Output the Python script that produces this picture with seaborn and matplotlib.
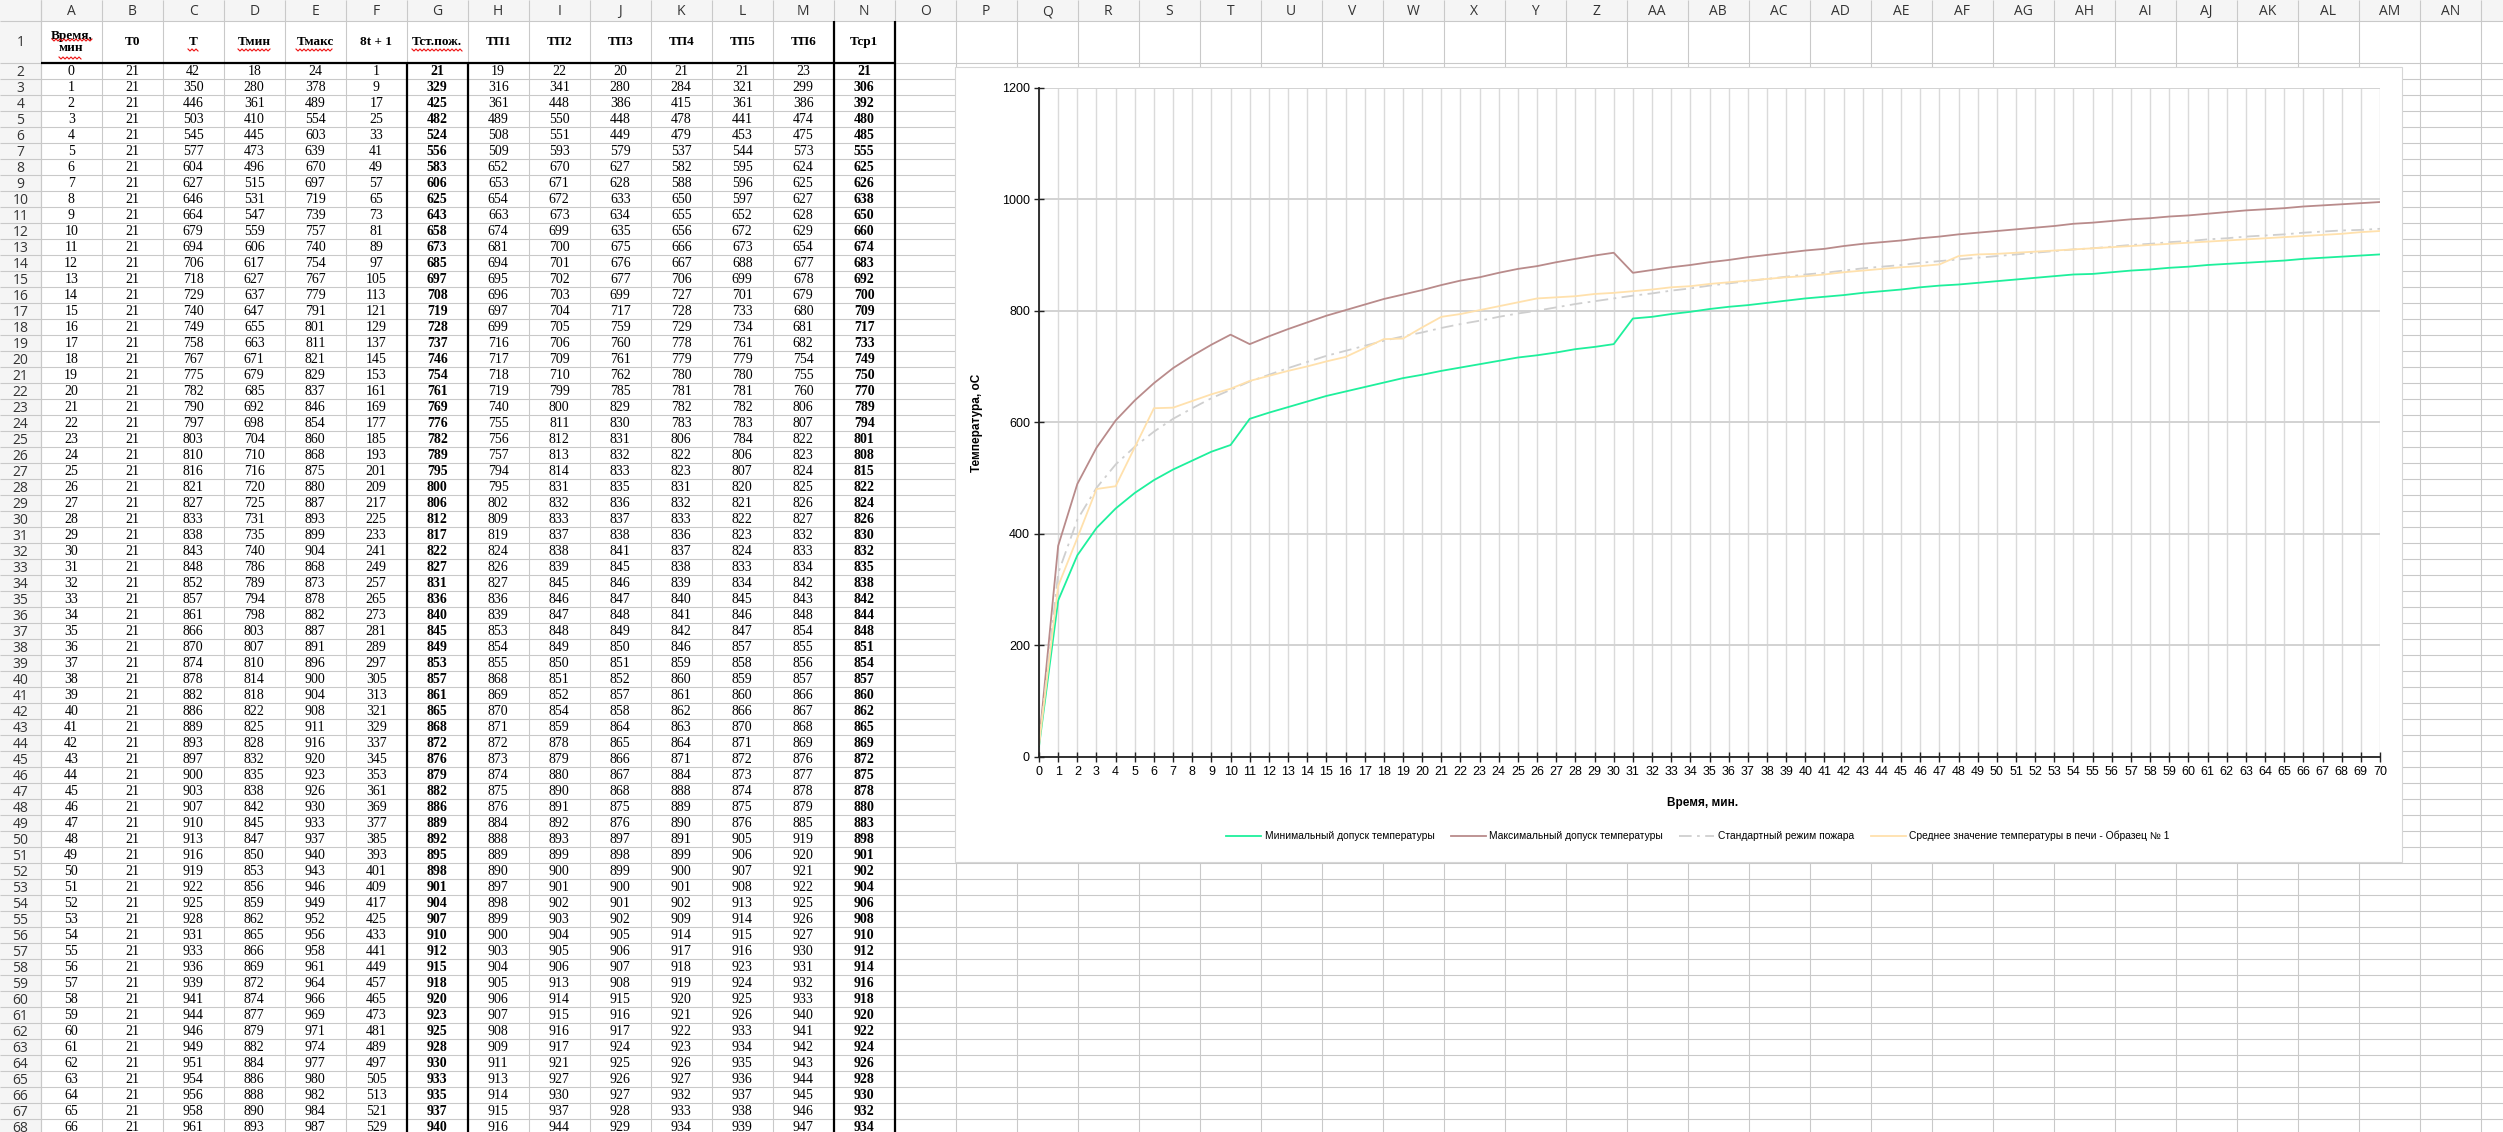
import numpy as np
import pandas as pd
import matplotlib
matplotlib.use("Agg")
import matplotlib.pyplot as plt
import seaborn as sns
from matplotlib.patches import Rectangle

# ---- table data (read from the sheet) ----
time_min = list(range(67))
t0 = [21] * 67
t_st = [42, 350, 446, 503, 545, 577, 604, 627, 646, 664, 679, 694, 706, 718, 729, 740, 749, 758, 767, 775,
        782, 790, 797, 803, 810, 816, 821, 827, 833, 838, 843, 848, 852, 857, 861, 866, 870, 874, 878, 882,
        886, 889, 893, 897, 900, 903, 907, 910, 913, 916, 919, 922, 925, 928, 931, 933, 936, 939, 941, 944,
        946, 949, 951, 954, 956, 958, 961]
t_min = [18, 280, 361, 410, 445, 473, 496, 515, 531, 547, 559, 606, 617, 627, 637, 647, 655, 663, 671, 679,
         685, 692, 698, 704, 710, 716, 720, 725, 731, 735, 740, 786, 789, 794, 798, 803, 807, 810, 814, 818,
         822, 825, 828, 832, 835, 838, 842, 845, 847, 850, 853, 856, 859, 862, 865, 866, 869, 872, 874, 877,
         879, 882, 884, 886, 888, 890, 893]
t_max = [24, 378, 489, 554, 603, 639, 670, 697, 719, 739, 757, 740, 754, 767, 779, 791, 801, 811, 821, 829,
         837, 846, 854, 860, 868, 875, 880, 887, 893, 899, 904, 868, 873, 878, 882, 887, 891, 896, 900, 904,
         908, 911, 916, 920, 923, 926, 930, 933, 937, 940, 943, 946, 949, 952, 956, 958, 961, 964, 966, 969,
         971, 974, 977, 980, 982, 984, 987]
f_8t1 = [1, 9, 17, 25, 33, 41, 49, 57, 65, 73, 81, 89, 97, 105, 113, 121, 129, 137, 145, 153,
         161, 169, 177, 185, 193, 201, 209, 217, 225, 233, 241, 249, 257, 265, 273, 281, 289, 297, 305, 313,
         321, 329, 337, 345, 353, 361, 369, 377, 385, 393, 401, 409, 417, 425, 433, 441, 449, 457, 465, 473,
         481, 489, 497, 505, 513, 521, 529]
t_fire = [21, 329, 425, 482, 524, 556, 583, 606, 625, 643, 658, 673, 685, 697, 708, 719, 728, 737, 746, 754,
          761, 769, 776, 782, 789, 795, 800, 806, 812, 817, 822, 827, 831, 836, 840, 845, 849, 853, 857, 861,
          865, 868, 872, 876, 879, 882, 886, 889, 892, 895, 898, 901, 904, 907, 910, 912, 915, 918, 920, 923,
          925, 928, 930, 933, 935, 937, 940]
tp1 = [19, 316, 361, 489, 508, 509, 652, 653, 654, 663, 674, 681, 694, 695, 696, 697, 699, 716, 717, 718,
       719, 740, 755, 756, 757, 794, 795, 802, 809, 819, 824, 826, 827, 836, 839, 853, 854, 855, 868, 869,
       870, 871, 872, 873, 874, 875, 876, 884, 888, 889, 890, 897, 898, 899, 900, 903, 904, 905, 906, 907,
       908, 909, 911, 913, 914, 915, 916]
tp2 = [22, 341, 448, 550, 551, 593, 670, 671, 672, 673, 699, 700, 701, 702, 703, 704, 705, 706, 709, 710,
       799, 800, 811, 812, 813, 814, 831, 832, 833, 837, 838, 839, 845, 846, 847, 848, 849, 850, 851, 852,
       854, 859, 878, 879, 880, 890, 891, 892, 893, 899, 900, 901, 902, 903, 904, 905, 906, 913, 914, 915,
       916, 917, 921, 927, 930, 937, 944]
tp3 = [20, 280, 386, 448, 449, 579, 627, 628, 633, 634, 635, 675, 676, 677, 699, 717, 759, 760, 761, 762,
       785, 829, 830, 831, 832, 833, 835, 836, 837, 838, 841, 845, 846, 847, 848, 849, 850, 851, 852, 857,
       858, 864, 865, 866, 867, 868, 875, 876, 897, 898, 899, 900, 901, 902, 905, 906, 907, 908, 915, 916,
       917, 924, 925, 926, 927, 928, 929]
tp4 = [21, 284, 415, 478, 479, 537, 582, 588, 650, 655, 656, 666, 667, 706, 727, 728, 729, 778, 779, 780,
       781, 782, 783, 806, 822, 823, 831, 832, 833, 836, 837, 838, 839, 840, 841, 842, 846, 859, 860, 861,
       862, 863, 864, 871, 884, 888, 889, 890, 891, 899, 900, 901, 902, 909, 914, 917, 918, 919, 920, 921,
       922, 923, 926, 927, 932, 933, 934]
tp5 = [21, 321, 361, 441, 453, 544, 595, 596, 597, 652, 672, 673, 688, 699, 701, 733, 734, 761, 779, 780,
       781, 782, 783, 784, 806, 807, 820, 821, 822, 823, 824, 833, 834, 845, 846, 847, 857, 858, 859, 860,
       866, 870, 871, 872, 873, 874, 875, 876, 905, 906, 907, 908, 913, 914, 915, 916, 923, 924, 925, 926,
       933, 934, 935, 936, 937, 938, 939]
tp6 = [23, 299, 386, 474, 475, 573, 624, 625, 627, 628, 629, 654, 677, 678, 679, 680, 681, 682, 754, 755,
       760, 806, 807, 822, 823, 824, 825, 826, 827, 832, 833, 834, 842, 843, 848, 854, 855, 856, 857, 866,
       867, 868, 869, 876, 877, 878, 879, 885, 919, 920, 921, 922, 925, 926, 927, 930, 931, 932, 933, 940,
       941, 942, 943, 944, 945, 946, 947]
t_avg = [21, 306, 392, 480, 485, 555, 625, 626, 638, 650, 660, 674, 683, 692, 700, 709, 717, 733, 749, 750,
         770, 789, 794, 801, 808, 815, 822, 824, 826, 830, 832, 835, 838, 842, 844, 848, 851, 854, 857, 860,
         862, 865, 869, 872, 875, 878, 880, 883, 898, 901, 902, 904, 906, 908, 910, 912, 914, 916, 918, 920,
         922, 924, 926, 928, 930, 932, 934]

# rows 67..70 are hidden below the screen
tail_min = [67, 68, 69, 70]
tail_tmin = [895, 897, 899, 901]
tail_tmax = [989, 991, 993, 995]
tail_fire = [942, 944, 945, 947]
tail_avg = [936, 938, 941, 943]

headers = ["Время,\nмин", "Т0", "Т", "Тмин", "Тмакс", "8t + 1", "Тст.пож.",
           "ТП1", "ТП2", "ТП3", "ТП4", "ТП5", "ТП6", "Тср1"]
legend_labels = ["Минимальный допуск температуры", "Максимальный допуск температуры",
                 "Стандартный режим пожара", "Среднее значение температуры в печи - Образец № 1"]

# ---- sheet geometry (pixels) ----
W, H = 2503, 1132
COL0, CW = 40.7, 61.0
HDR_H, ROW1_B, RH = 21, 63, 16
NCOLS = 42

serif = ["Liberation Serif", "DejaVu Serif"]
ui = ["Open Sans", "DejaVu Sans"]
narrow = ["Liberation Sans Narrow", "Liberation Sans", "DejaVu Sans"]
plt.rcParams["font.family"] = narrow

fig = plt.figure(figsize=(W / 100, H / 100), dpi=100)
sh = fig.add_axes([0, 0, 1, 1])
sh.set_xlim(0, W)
sh.set_ylim(H, 0)
sh.axis("off")

grid_c = "#c9c9c9"
sh.add_patch(Rectangle((0, 0), W, HDR_H, fc="#f5f5f5", ec="none", zorder=0))
sh.add_patch(Rectangle((0, 0), COL0, H, fc="#f5f5f5", ec="none", zorder=0))

col_edges = COL0 + CW * np.arange(NCOLS + 1)
row_edges = [HDR_H] + [ROW1_B + RH * k for k in range(70)]
sh.vlines([COL0] + list(col_edges), 0, H, color=grid_c, lw=0.8, zorder=1)
sh.hlines(row_edges, 0, W, color=grid_c, lw=0.8, zorder=1)


def col_name(i):
    s = ""
    i += 1
    while i:
        i, r = divmod(i - 1, 26)
        s = chr(65 + r) + s
    return s


# letters A..AN (the next column is only a sliver on screen)
for i in range(40):
    sh.text(col_edges[i] + CW / 2, HDR_H / 2 + 1, col_name(i), ha="center", va="center",
            fontsize=10, family=ui, color="#333333", zorder=2)

row_centers = [(HDR_H + ROW1_B) / 2] + [ROW1_B + RH * k + RH / 2 for k in range(68)]
for n, yc in enumerate(row_centers, start=1):
    sh.text(COL0 / 2, yc + 1, str(n), ha="center", va="center", fontsize=10, family=ui,
            color="#333333", zorder=2)

# header row 1
for j, h in enumerate(headers):
    sh.text(col_edges[j] + CW / 2, 42, h, ha="center", va="center", fontsize=9.5,
            family=serif, weight="bold", linespacing=1.1, zorder=2)


def squiggle(x0, x1, y):
    xs = np.arange(x0, x1 + 0.1, 2.0)
    ys = y + np.where(np.arange(len(xs)) % 2 == 0, -1.0, 1.0)
    sh.plot(xs, ys, color="#ee1111", lw=0.8, zorder=2)


squiggle(52, 92, 40)
squiggle(59, 81, 58)
squiggle(188, 198, 50)
squiggle(238, 270, 50)
squiggle(296, 333, 50)
squiggle(412, 462, 50)

table_cols = [time_min, t0, t_st, t_min, t_max, f_8t1, t_fire, tp1, tp2, tp3, tp4, tp5, tp6, t_avg]
bold_cols = {6, 13}
for j, col in enumerate(table_cols):
    xc = col_edges[j] + CW / 2
    for i, v in enumerate(col):
        yc = ROW1_B + RH * i + RH / 2 + 0.5
        if yc > H + 8:
            break
        sh.text(xc, yc, str(v), ha="center", va="center", fontsize=10, family=serif,
                weight="bold" if j in bold_cols else "normal", zorder=2)

# thick borders
sh.hlines(ROW1_B, COL0, col_edges[14], color="black", lw=1.6, zorder=3)
sh.vlines([col_edges[6], col_edges[7]], ROW1_B, H, color="black", lw=1.6, zorder=3)
sh.vlines([col_edges[13], col_edges[14]], HDR_H, H, color="black", lw=1.6, zorder=3)

# chart frame
sh.add_patch(Rectangle((955, 67), 2402 - 955, 862 - 67, fc="white", ec="#d6d6d6", lw=0.8, zorder=4))

# ---- chart ----
x_left, x_right, y_top, y_bot = 1039, 2380, 87.8, 756.5
ax = fig.add_axes([x_left / W, 1 - y_bot / H, (x_right - x_left) / W, (y_bot - y_top) / H], zorder=5)
ax.set_facecolor("white")

xs = time_min + tail_min
series = [
    (t_min + tail_tmin, "#1ef09c", "-"),
    (t_max + tail_tmax, "#b98b8b", "-"),
    (t_fire + tail_fire, "#cfcfcf", (0, (7, 3, 1.5, 3))),
    (t_avg + tail_avg, "#ffe1ad", "-"),
]
for (ys, color, ls), lab in zip(series, legend_labels):
    sns.lineplot(x=xs, y=ys, ax=ax, color=color, linestyle=ls, lw=1.3, label=lab)

ax.set_xlim(0, 70)
ax.set_ylim(0, 1200)
ax.set_xticks(range(0, 71))
ax.set_yticks(range(0, 1201, 200))
ax.grid(axis="x", color="#dadada", lw=1.0)
ax.grid(axis="y", color="#d2d2d2", lw=1.4)
ax.set_axisbelow(True)
for s in ["top", "right"]:
    ax.spines[s].set_visible(False)
for s in ["left", "bottom"]:
    ax.spines[s].set_color("#222222")
    ax.spines[s].set_linewidth(1.3)
ax.tick_params(axis="both", direction="inout", length=7, width=1.0, color="#222222",
               labelsize=9, pad=3)
ax.set_xlabel("")
ax.set_ylabel("")

fig.text(977 / W, 1 - 423 / H, "Температура, оС", rotation=90, ha="center", va="center",
         fontsize=8.5, weight="bold", family=["Liberation Sans", "DejaVu Sans"], zorder=6)
fig.text(1703 / W, 1 - 803 / H, "Время, мин.", ha="center", va="center",
         fontsize=8.5, weight="bold", family=["Liberation Sans", "DejaVu Sans"], zorder=6)

ax.legend(loc="center left", bbox_to_anchor=(1226 / W, 1 - 836 / H), bbox_transform=fig.transFigure,
          ncol=4, frameon=False, fontsize=7.4, handlelength=3.4, handletextpad=0.35,
          columnspacing=1.6, borderpad=0, borderaxespad=0)

fig.savefig("out.png", dpi=100)
